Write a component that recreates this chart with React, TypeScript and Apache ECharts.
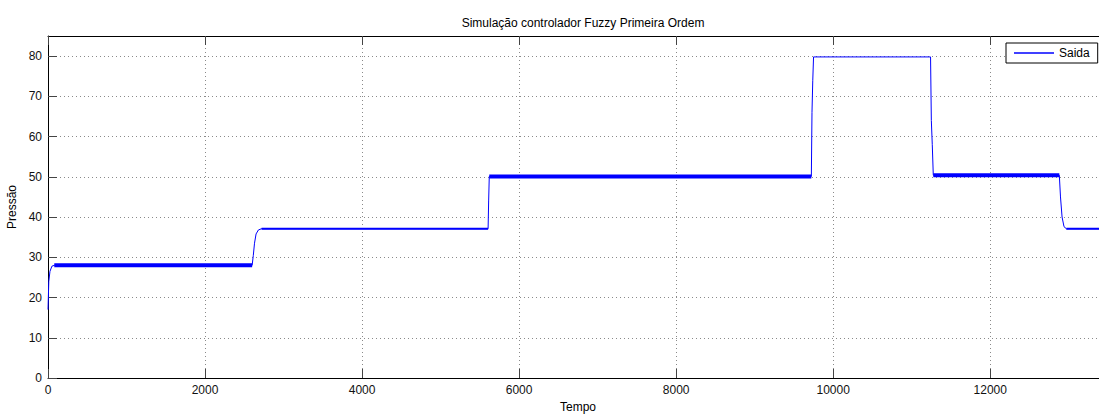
import React, { useEffect, useRef } from "react";
import * as echarts from "echarts";

// Tempo (x) / Pressão (y) key points of the "Saida" response
const tempo = [0, 10, 25, 50, 80, 2600, 2615, 2630, 2650, 2680, 2720, 5605, 5612, 5620, 9722, 9730, 9740, 9750, 11240, 11250, 11262, 11275, 12880, 12895, 12915, 12940, 12970, 13500];
const pressao = [17, 24, 26.5, 27.8, 28, 28, 30.5, 33.5, 35.8, 36.8, 37.1, 37.1, 44, 50.1, 50.1, 66, 74, 79.8, 79.8, 64, 58, 50.4, 50.4, 45, 40, 37.6, 37.1, 37.1];

// steady-state segments where the output oscillates (drawn as a thick band)
const bandStart = [80, 5620, 11275];
const bandEnd = [2600, 9722, 12880];
const bandLevel = [28, 50.1, 50.4];

// quieter steady-state segments (slightly thicker trace)
const calmStart = [2720, 12970];
const calmEnd = [5605, 13500];
const calmLevel = [37.1, 37.1];

const xTicks = { min: 0, max: 13500, interval: 2000 };
const yTicks = { min: 0, max: 85, interval: 10 };

const titleText = "Simulação controlador Fuzzy Primeira Ordem";
const seriesName = "Saida";

function segments(starts: number[], ends: number[], levels: number[]) {
  const out: any[] = [];
  starts.forEach((s, i) => {
    if (i > 0) out.push([s - 1, null]);
    out.push([s, levels[i]]);
    out.push([ends[i], levels[i]]);
  });
  return out;
}

export default function App() {
  const ref = useRef<HTMLDivElement>(null);
  useEffect(() => {
    if (!ref.current) return;
    const chart = echarts.init(ref.current, null, { renderer: "svg" });
    const lineData = tempo.map((t, i) => [t, pressao[i]]);
    const bandData = segments(bandStart, bandEnd, bandLevel);
    const calmData = segments(calmStart, calmEnd, calmLevel);
    const font = "'Liberation Sans', Arial, Helvetica, sans-serif";
    const gridLine = { show: true, lineStyle: { color: "#8a8a8a", type: [1, 3], width: 1 } };
    const plain = (v: number) => String(v);
    chart.setOption({
      animation: false,
      backgroundColor: "#fff",
      textStyle: { fontFamily: font },
      title: {
        text: titleText,
        left: 578,
        textAlign: "center",
        top: 12,
        textStyle: { fontSize: 12, fontWeight: "normal", color: "#000", fontFamily: font },
      },
      legend: {
        left: 1006,
        top: 43,
        padding: [4, 8, 4, 8],
        borderColor: "#000",
        borderWidth: 1,
        backgroundColor: "#fff",
        itemWidth: 40,
        itemHeight: 1.5,
        data: [{ name: seriesName, icon: "rect" }],
        textStyle: { fontSize: 12, color: "#000", fontFamily: font },
      },
      grid: { left: 48, top: 36, right: -9, bottom: 37, show: false, outerBoundsMode: "none", containLabel: false },
      xAxis: [
        {
          type: "value",
          ...xTicks,
          position: "bottom",
          name: "Tempo",
          nameLocation: "middle",
          nameGap: 22,
          nameTextStyle: { fontSize: 12, color: "#000", fontFamily: font },
          axisLine: { show: true, lineStyle: { color: "#000", width: 1 } },
          axisTick: { show: true, inside: true, length: 9, lineStyle: { color: "#444" } },
          axisLabel: { fontSize: 12, color: "#111", margin: 6, fontFamily: font, formatter: plain, showMaxLabel: false },
          splitLine: gridLine,
        },
        {
          type: "value",
          ...xTicks,
          position: "top",
          axisLine: { show: true, lineStyle: { color: "#000", width: 1 } },
          axisTick: { show: true, inside: true, length: 9, lineStyle: { color: "#444" } },
          axisLabel: { show: false },
          splitLine: { show: false },
        },
      ],
      yAxis: [
        {
          type: "value",
          ...yTicks,
          position: "left",
          name: "Pressão",
          nameLocation: "middle",
          nameRotate: 90,
          nameGap: 28,
          nameTextStyle: { fontSize: 12, color: "#000", fontFamily: font },
          axisLine: { show: true, lineStyle: { color: "#000", width: 1 } },
          axisTick: { show: true, inside: true, length: 9, lineStyle: { color: "#444" } },
          axisLabel: { fontSize: 12, color: "#111", margin: 6, showMaxLabel: false, fontFamily: font, formatter: plain },
          splitLine: gridLine,
        },
      ],
      series: [
        {
          name: seriesName,
          type: "line",
          xAxisIndex: 0,
          data: lineData,
          symbol: "none",
          lineStyle: { color: "#0000ff", width: 1 },
          itemStyle: { color: "#0000ff" },
          z: 3,
        },
        {
          name: "band",
          type: "line",
          xAxisIndex: 0,
          data: bandData,
          symbol: "none",
          connectNulls: false,
          lineStyle: { color: "#0000ff", width: 4 },
          z: 2,
          silent: true,
        },
        {
          name: "calm",
          type: "line",
          xAxisIndex: 0,
          data: calmData,
          symbol: "none",
          connectNulls: false,
          lineStyle: { color: "#0000ff", width: 2 },
          z: 2,
          silent: true,
        },
      ],
    });
    return () => chart.dispose();
  }, []);
  return (
    <div
      ref={ref}
      style={{ position: "fixed", left: 0, top: 0, width: 1099, height: 415, background: "#fff" }}
    />
  );
}
